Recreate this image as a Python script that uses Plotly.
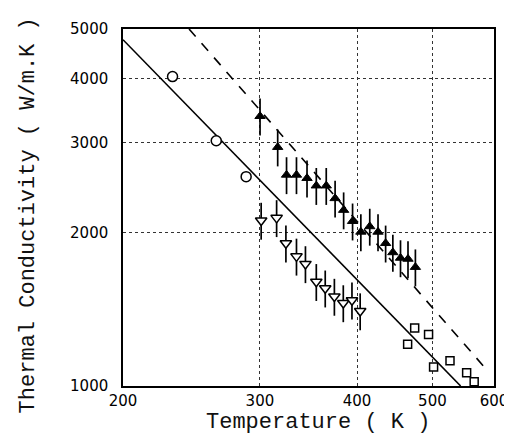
import plotly.graph_objects as go

# ---- data ----
circle_T = [231.6, 263.6, 288.0]
circle_K = [4035, 3021, 2570]

up_T = [300.1, 316.2, 324.6, 334.3, 344.9, 354.5, 365.1, 374.8, 384.4, 394.7,
        404.5, 415.3, 425.6, 435.3, 444.7, 454.9, 465.1, 475.4]
up_K = [3374, 2935, 2590, 2590, 2552, 2467, 2467, 2330, 2210, 2102,
        2003, 2053, 2003, 1903, 1826, 1781, 1773, 1709]

down_T = [301.1, 315.2, 324.0, 334.3, 343.3, 354.5, 364.0, 374.0, 384.0, 394.0, 403.7]
down_K = [2109, 2134, 1903, 1794, 1734, 1600, 1554, 1497, 1454, 1472, 1402]

square_T = [464.6, 474.4, 494.3, 501.7, 526.7, 553.3, 565.8]
square_K = [1207, 1299, 1261, 1089, 1121, 1062, 1019]

err_percent = 8.3

solid_T = [200, 543.6]
solid_K = [4764, 1000]
dashed_T = [243.2, 590.6]
dashed_K = [5000, 1065]

x_ticks = [200, 300, 400, 500, 600]
y_ticks = [1000, 2000, 3000, 4000, 5000]

fig = go.Figure()

fig.add_trace(go.Scatter(x=solid_T, y=solid_K, mode="lines",
                         line=dict(color="black", width=1.6), hoverinfo="skip"))
fig.add_trace(go.Scatter(x=dashed_T, y=dashed_K, mode="lines",
                         line=dict(color="black", width=1.6, dash="10px,9px"), hoverinfo="skip"))

err = dict(type="percent", value=err_percent, width=0, color="black", thickness=1.7)

# error bars first (hidden markers), then markers on top
for xs, ys in [(up_T, up_K), (down_T, down_K)]:
    fig.add_trace(go.Scatter(x=xs, y=ys, mode="markers", error_y=err,
                             marker=dict(size=1, opacity=0), hoverinfo="skip"))

fig.add_trace(go.Scatter(x=up_T, y=up_K, mode="markers",
                         marker=dict(symbol="triangle-up", size=9, color="black",
                                     line=dict(color="black", width=1))))
fig.add_trace(go.Scatter(x=down_T, y=down_K, mode="markers",
                         marker=dict(symbol="triangle-down", size=10, color="white",
                                     line=dict(color="black", width=1.5))))
fig.add_trace(go.Scatter(x=circle_T, y=circle_K, mode="markers",
                         marker=dict(symbol="circle", size=10, color="white",
                                     line=dict(color="black", width=1.5))))
fig.add_trace(go.Scatter(x=square_T, y=square_K, mode="markers",
                         marker=dict(symbol="square", size=8, color="white",
                                     line=dict(color="black", width=1.5))))

tickfont = dict(family="DejaVu Sans", size=15, color="#000")
axis_common = dict(showline=True, mirror=True, linecolor="black", linewidth=1.5,
                   showgrid=True, gridcolor="#333", griddash="dot", gridwidth=1,
                   ticks="", tickfont=tickfont, zeroline=False)

fig.update_layout(
    width=512, height=434,
    margin=dict(l=115, r=22, t=12, b=56),
    paper_bgcolor="white", plot_bgcolor="white",
    showlegend=False,
    xaxis=dict(type="log", range=[2.30103, 2.778151], tickvals=x_ticks,
               ticktext=[str(v) for v in x_ticks], ticklabelstandoff=0, **axis_common),
    yaxis=dict(type="log", range=[3.0, 3.69897], tickvals=y_ticks,
               ticktext=[str(v) for v in y_ticks], ticklabelstandoff=10, **axis_common),
    annotations=[
        dict(text="Temperature ( K )", xref="paper", yref="paper", x=0.525, y=-0.103,
             xanchor="center", yanchor="middle", showarrow=False,
             font=dict(family="Liberation Mono", size=22, color="#111")),
        dict(text="Thermal Conductivity ( W/m.K )", xref="paper", yref="paper",
             x=-0.256, y=0.478, textangle=-90, xanchor="center", yanchor="middle",
             showarrow=False, font=dict(family="Liberation Mono", size=22, color="#111")),
    ],
)

fig.write_html("out.html")
